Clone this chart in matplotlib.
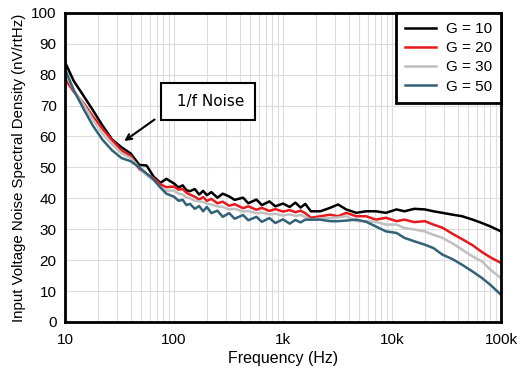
import matplotlib
matplotlib.use('Agg')
import matplotlib.pyplot as plt
from matplotlib.ticker import NullFormatter

# frequency grid (Hz) and noise density (nV/rtHz)
freq = [10, 12, 15, 18, 22, 27, 33, 40, 48, 56, 65, 75, 85, 100,
        110, 120, 130, 140, 155, 170, 185, 200, 220, 250, 280, 320, 360, 430,
        480, 570, 640, 750, 850, 1000, 1150, 1300, 1450, 1600,
        1800, 2200, 2700, 3200, 3800, 4700, 5800, 7100, 8800, 11000, 13000,
        16000, 20000, 24000, 29000, 36000, 44000, 55000, 67000, 80000, 100000]

g10 = [84, 78, 72.8, 68.5, 63.6, 59, 56.5, 54.5, 50.8, 50.6, 47, 45, 46.3, 44.8,
       43.5, 44.2, 42.6, 42.3, 43.0, 41.2, 42.4, 41.0, 42.0, 40.2, 41.5, 40.6,
       39.5, 40.2, 38.4, 39.6, 37.8, 39.0, 37.4, 38.3, 37.2, 38.6, 37.0, 38.2,
       35.8, 35.8, 36.9, 38, 36.4, 35.3, 35.8, 35.8, 35.3, 36.4, 35.8, 36.6, 36.4,
       35.8, 35.3, 34.7, 34.2, 33.1, 32, 30.9, 29.3]
g20 = [78.6, 74.5, 70.5, 66.5, 62.5, 58.8, 55.5, 53.7, 49.5, 47.8, 46.5, 44.5,
       43.6, 43.8,
       42.8, 43.0, 41.8, 41.2, 40.5, 39.6, 40.4, 39.2, 39.8, 38.4, 38.9, 37.6,
       38.1, 36.8, 37.4, 36.3, 36.9, 35.9, 36.5, 35.7, 36.2, 35.5, 36.0, 35.2,
       33.7, 34.2, 34.7, 34.2, 35.3, 34.2, 34.2, 33.1, 33.7, 32.6, 33.1, 32.3,
       32.6, 31.5, 30.5, 28.5, 26.8, 24.8, 22.6, 20.9, 19.1]
g30 = [80.5, 75, 70, 65.5, 61, 57.5, 54.5, 53, 50, 47.5, 45.8, 43.5, 42.5, 42.5,
       41.5, 41.2, 40.3, 40.0, 39.2, 39.0, 38.8, 38.3, 38.0, 37.4, 37.2, 36.4,
       36.6, 35.7, 35.9, 35.2, 35.4, 34.8, 35.0, 34.4, 34.8, 34.3, 34.6, 34.0,
       33.1, 33.5, 33.6, 33.8, 34.2, 32.6, 32.6, 32.4, 31.5, 31.5, 30.4, 29.9,
       29.3, 28.2, 27.2, 25.4, 23.4, 21.2, 19.6, 16.9, 14.2]
g50 = [81.8, 75, 68.5, 63.5, 59, 55.5, 53, 52, 50, 48, 46.1, 43.5, 41.5, 40.5,
       39.2, 39.5, 37.8, 38.2, 36.6, 37.5, 35.8, 37.2, 35.2, 36.0, 34.0, 35.2,
       33.4, 34.6, 32.9, 34.0, 32.4, 33.6, 32.0, 33.2, 31.8, 33.0, 32.2, 33.1,
       33.1, 33.1, 32.6, 32.6, 32.8, 33.1, 32.4, 30.9, 29.3, 28.8, 27.2, 26.1,
       25, 23.9, 21.8, 20.3, 18.5, 16.3, 14.2, 12, 8.8]

series = [('G = 10', g10, 'black'), ('G = 20', g20, '#e8191c'),
          ('G = 30', g30, '#c0c0c0'), ('G = 50', g50, '#336178')]

xticks = [10, 100, 1000, 10000, 100000]
xlabels = ['10', '100', '1k', '10k', '100k']

plt.rcParams['font.family'] = ['Liberation Sans', 'DejaVu Sans']
fig = plt.figure(figsize=(5.29, 3.77), dpi=100)
ax = fig.add_axes([0.123, 0.146, 0.824, 0.82])

for label, vals, col in series:
    ax.plot(freq, vals, color=col, lw=1.8, label=label)

ax.set_xscale('log')
ax.set_xlim(10, 100000)
ax.set_ylim(0, 100)
ax.set_yticks(range(0, 101, 10))
ax.set_xticks(xticks)
ax.set_xticklabels(xlabels)
ax.xaxis.set_minor_formatter(NullFormatter())
ax.tick_params(which='both', length=0, labelsize=11)
ax.tick_params(axis='x', pad=8)
ax.tick_params(axis='y', pad=6)
ax.grid(which='major', color='#dcdcdc', lw=0.8)
ax.grid(which='minor', axis='x', color='#dcdcdc', lw=0.8)
ax.set_axisbelow(True)
for s in ax.spines.values():
    s.set_linewidth(2)
ax.set_xlabel('Frequency (Hz)', fontsize=11.5, labelpad=3)
ax.set_ylabel('Input Voltage Noise Spectral Density (nV/rtHz)', fontsize=10.8,
              labelpad=4)

leg = ax.legend(loc='upper right', fontsize=11, borderaxespad=0, fancybox=False,
                handlelength=2.0, handletextpad=0.65, labelspacing=0.34,
                borderpad=0.6)
leg.get_frame().set_edgecolor('black')
leg.get_frame().set_linewidth(2)
leg.get_frame().set_alpha(1)

ax.annotate('', xy=(33.3, 58), xytext=(69.5, 66),
            arrowprops=dict(arrowstyle='->', color='black', lw=1.5))
ax.text(205, 71.2, ' 1/f Noise', ha='center', va='center', fontsize=11,
        family='DejaVu Sans',
        bbox=dict(boxstyle='square,pad=0.72', fc='white', ec='black', lw=1.5))

fig.savefig('out.png', dpi=100)
